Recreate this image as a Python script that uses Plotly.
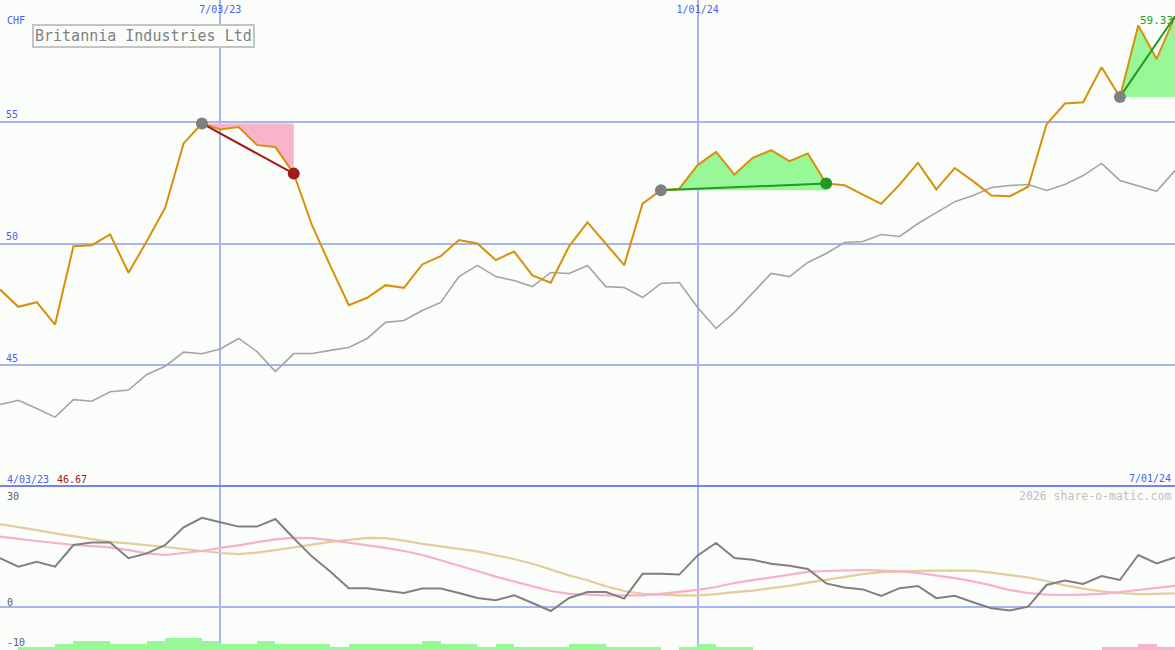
import pandas as pd
import plotly.graph_objects as go

# ---------------- data ----------------
dates = pd.date_range("2023-04-10", periods=65, freq="7D")

price = [48.11, 47.40, 47.59, 46.67, 49.89, 49.93, 50.37, 48.80, 50.10, 51.47,
         54.11, 54.93, 54.68, 54.78, 54.04, 53.96, 52.87, 50.74, 49.07, 47.47,
         47.77, 48.29, 48.18, 49.14, 49.48, 50.14, 50.00, 49.32, 49.67, 48.69,
         48.39, 49.89, 50.87, 50.00, 49.11, 51.64, 52.19, 52.25, 53.22, 53.76,
         52.83, 53.52, 53.83, 53.38, 53.70, 52.46, 52.39, 52.01, 51.63, 52.42,
         53.31, 52.22, 53.10, 52.56, 51.97, 51.94, 52.33, 54.89, 55.75, 55.80,
         57.24, 56.02, 58.95, 57.58, 59.33]

compare = [43.39, 43.56, 43.22, 42.87, 43.59, 43.52, 43.91, 43.98, 44.62, 44.96,
           45.54, 45.47, 45.67, 46.10, 45.56, 44.74, 45.48, 45.48, 45.61, 45.73,
           46.10, 46.76, 46.84, 47.25, 47.58, 48.64, 49.10, 48.64, 48.48, 48.23,
           48.81, 48.77, 49.10, 48.23, 48.19, 47.78, 48.36, 48.40, 47.37, 46.51,
           47.17, 47.99, 48.77, 48.64, 49.22, 49.59, 50.04, 50.08, 50.37, 50.29,
           50.82, 51.27, 51.72, 51.97, 52.30, 52.38, 52.42, 52.18, 52.42, 52.79,
           53.29, 52.59, 52.38, 52.14, 53.00]

osc = [12.2, 10.1, 11.3, 10.1, 15.5, 16.1, 16.1, 12.2, 13.4, 15.5,
       19.9, 22.3, 21.2, 20.1, 20.1, 22.0, 17.2, 12.6, 8.8, 4.7,
       4.7, 4.1, 3.5, 4.6, 4.6, 3.5, 2.25, 1.7, 2.9, 1.0,
       -1.0, 2.25, 3.75, 3.75, 2.1, 8.3, 8.3, 8.1, 12.9, 16.0,
       12.25, 11.8, 10.8, 10.3, 9.5, 5.9, 4.9, 4.4, 2.75, 4.7,
       5.25, 2.2, 2.8, 1.2, -0.3, -0.9, 0.1, 5.5, 6.6, 5.75,
       7.75, 6.75, 13.0, 10.9, 12.4]

osc_pink = [17.6, 17.0, 16.5, 16.0, 15.5, 15.2, 14.9, 14.2, 13.4, 13.0,
            13.5, 14.0, 14.8, 15.4, 16.2, 16.9, 17.3, 17.2, 16.7, 16.1,
            15.5, 14.8, 14.0, 13.0, 11.7, 10.4, 9.0, 7.6, 6.4, 5.2,
            4.0, 3.3, 3.1, 2.9, 2.9, 2.9, 3.3, 3.75, 4.3, 5.0,
            6.0, 6.7, 7.4, 8.2, 8.8, 9.0, 9.2, 9.25, 9.1, 8.9,
            8.5, 7.9, 7.2, 6.4, 5.4, 4.2, 3.5, 3.1, 3.0, 3.1,
            3.3, 3.75, 4.3, 4.9, 5.3]

osc_tan = [20.7, 20.0, 19.2, 18.4, 17.7, 17.0, 16.3, 15.9, 15.5, 15.0,
           14.5, 14.0, 13.5, 13.2, 13.6, 14.2, 14.9, 15.6, 16.3, 16.8,
           17.3, 17.2, 16.6, 15.8, 15.2, 14.6, 13.9, 12.9, 12.0, 10.8,
           9.4, 7.9, 6.7, 5.2, 4.0, 3.3, 3.1, 2.9, 2.9, 3.2,
           3.7, 4.1, 4.7, 5.3, 6.1, 6.8, 7.6, 8.2, 8.7, 8.9,
           9.05, 9.1, 9.1, 9.1, 8.6, 8.0, 7.4, 6.5, 5.4, 4.6,
           3.9, 3.5, 3.2, 3.3, 3.4]

# weekly histogram (one value per interval between points); >0 green, <0 pink
hist = [0, 0.75, 0.75, 1.5, 2.25, 2.25, 1.5, 1.5, 2.25, 3, 3, 2.25, 1.5, 1.5,
        2.25, 1.5, 1.5, 1.5, 0.75, 1.5, 1.5, 1.5, 1.5, 2.25, 1.5, 1.5, 0.75,
        1.5, 0.75, 0.75, 0.75, 1.5, 1.5, 0.75, 0.75, 0.75, 0, 0.75, 1.5, 0.75,
        0.75] + [0] * 19 + [-0.75, -0.75, -1.5, -0.75]

# signals: (start index, end index, kind)
signals = [(11, 16, "sell"), (36, 45, "buy"), (61, 64, "buy")]

grid_dates = ["2023-07-03", "2024-01-01"]
grid_text = ["7/03/23", "1/01/24"]
price_ticks = [45, 50, 55]
title = "Britannia Industries Ltd"
currency = "CHF"
start_label = "4/03/23"
end_label = "7/01/24"
credit = "2026 share-o-matic.com"

# ---------------- styles ----------------
BG = "#fbfdfb"
GRID = "#a8b4f0"
BLUE_TXT = "#4c5cf0"
ORANGE = "#d8900a"
FONT = "DejaVu Sans Mono"
W, H = 1175, 650
SPLIT = 163 / 650
Y2_RANGE = [-10.75, 30]

fig = go.Figure()

# signal fills
for s, e, kind in signals:
    xs = dates[s:e + 1]
    lvl = price[s]
    fc = "#f8b4c8" if kind == "sell" else "#98f898"
    fig.add_trace(go.Scatter(x=xs, y=[lvl] * len(xs), mode="lines",
                             line=dict(width=0), hoverinfo="skip",
                             xaxis="x", yaxis="y"))
    fig.add_trace(go.Scatter(x=xs, y=price[s:e + 1], mode="lines",
                             line=dict(width=0), fill="tonexty", fillcolor=fc,
                             hoverinfo="skip", xaxis="x", yaxis="y"))

# comparison line
fig.add_trace(go.Scatter(x=dates, y=compare, mode="lines",
                         line=dict(color="#a4a4a4", width=1.6),
                         xaxis="x", yaxis="y"))
# price line
fig.add_trace(go.Scatter(x=dates, y=price, mode="lines",
                         line=dict(color=ORANGE, width=2),
                         xaxis="x", yaxis="y"))

# signal lines and markers
for s, e, kind in signals:
    lc = "#a01c1c" if kind == "sell" else "#229922"
    fig.add_trace(go.Scatter(x=[dates[s], dates[e]], y=[price[s], price[e]],
                             mode="lines", line=dict(color=lc, width=2),
                             xaxis="x", yaxis="y"))
    fig.add_trace(go.Scatter(x=[dates[s]], y=[price[s]], mode="markers",
                             marker=dict(color="#808080", size=12),
                             xaxis="x", yaxis="y"))
    if e != len(price) - 1:
        fig.add_trace(go.Scatter(x=[dates[e]], y=[price[e]], mode="markers",
                                 marker=dict(color=lc, size=12),
                                 xaxis="x", yaxis="y"))

# lower panel
fig.add_trace(go.Bar(x=dates[:-1], y=[abs(v) for v in hist],
                     base=Y2_RANGE[0], offset=0,
                     width=7 * 24 * 3600 * 1000,
                     marker=dict(color=["#98f898" if v >= 0 else "#f8b4c8" for v in hist],
                                 line=dict(width=0)),
                     xaxis="x2", yaxis="y2"))
fig.add_trace(go.Scatter(x=dates, y=osc_tan, mode="lines",
                         line=dict(color="#e4cc9c", width=2.2),
                         xaxis="x2", yaxis="y2"))
fig.add_trace(go.Scatter(x=dates, y=osc_pink, mode="lines",
                         line=dict(color="#f8b0c8", width=2.2),
                         xaxis="x2", yaxis="y2"))
fig.add_trace(go.Scatter(x=dates, y=osc, mode="lines",
                         line=dict(color="#808080", width=2),
                         xaxis="x2", yaxis="y2"))

xr = [dates[0], dates[-1]]


def px(x, y):
    return x / W, 1 - y / H


annots = []


def note(text, x, y, color, size=10, xanchor="left", **kw):
    xp, yp = px(x, y)
    annots.append(dict(text=text, x=xp, y=yp, xref="paper", yref="paper",
                       xanchor=xanchor, yanchor="middle", showarrow=False,
                       font=dict(family=FONT, size=size, color=color), **kw))


note(currency, 5, 21, BLUE_TXT)
note(title, 32, 36, "#808080", size=15, bordercolor="#c4c4c4",
     borderwidth=2, borderpad=1, bgcolor=BG)
note(f"{price[-1]:.2f}", 1175, 21, "#22a022", size=11, xanchor="right")
note(start_label, 5, 479, BLUE_TXT)
note(f"{min(price):.2f}", 55, 479, "#a01c1c")
note(end_label, 1173, 478, BLUE_TXT, xanchor="right")
note(credit, 1173, 496, "#c0c0c0", size=11.5, xanchor="right")
note("30", 5, 496, "#606060")
note("0", 5, 602, "#606060")
note("-10", 5, 642, "#606060")

fig.update_layout(
    width=W, height=H,
    margin=dict(l=0, r=0, t=0, b=0),
    paper_bgcolor=BG, plot_bgcolor=BG,
    showlegend=False, hovermode=False,
    bargap=0,
    annotations=annots,
    xaxis=dict(domain=[0, 1], anchor="y", type="date", range=xr,
               tickvals=grid_dates, ticktext=grid_text, side="top",
               ticklabelposition="inside", ticks="", ticklabelstandoff=3,
               tickfont=dict(family=FONT, size=10, color=BLUE_TXT),
               showgrid=True, gridcolor=GRID, gridwidth=2,
               zeroline=False, showline=False),
    xaxis2=dict(domain=[0, 1], anchor="y2", type="date", range=xr,
                matches="x", tickvals=grid_dates, showticklabels=False,
                ticks="", side="top", showgrid=True, gridcolor=GRID,
                gridwidth=2, zeroline=False, showline=True,
                linecolor="#7484ec", linewidth=2),
    yaxis=dict(domain=[SPLIT, 1], anchor="x", range=[40, 60],
               tickvals=price_ticks, ticklabelposition="inside top", ticks="",
               ticklabelstandoff=3,
               tickfont=dict(family=FONT, size=10, color=BLUE_TXT),
               showgrid=True, gridcolor=GRID, gridwidth=2, zeroline=False),
    yaxis2=dict(domain=[0, SPLIT], anchor="x2", range=Y2_RANGE,
                tickvals=[0], showticklabels=False, ticks="",
                showgrid=True, gridcolor=GRID, gridwidth=2, zeroline=False),
)

fig.write_html("out.html", config={"displayModeBar": False},
               post_script="document.body.style.margin='0';")
